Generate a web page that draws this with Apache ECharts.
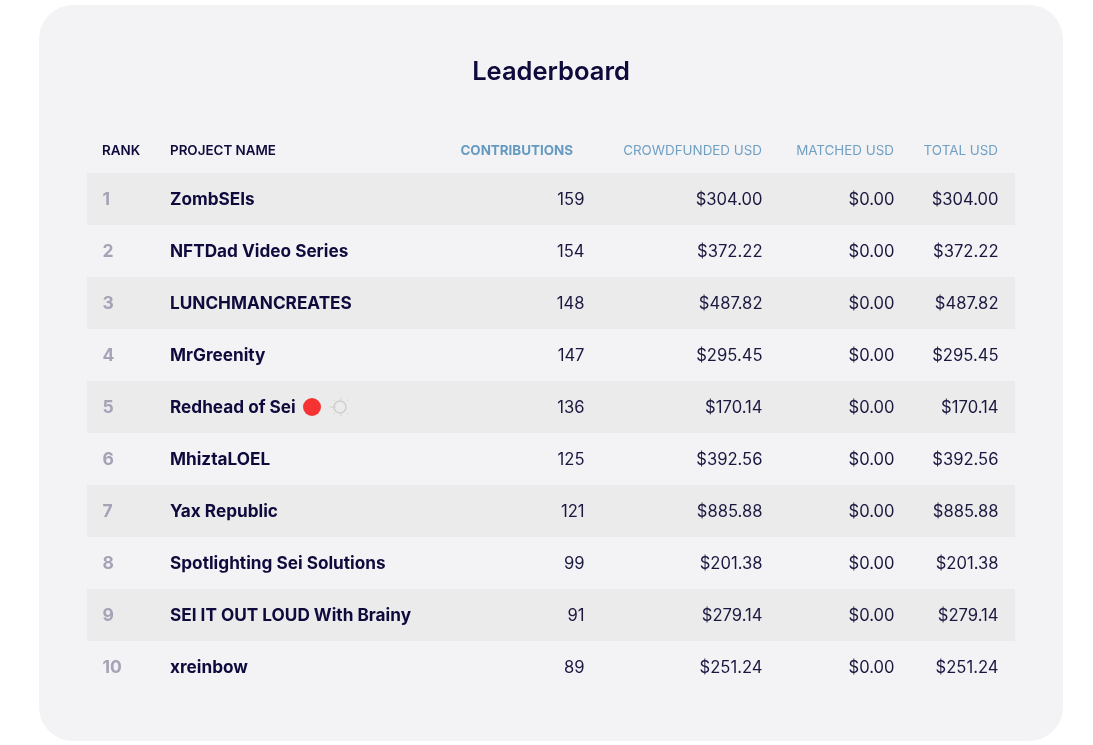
<!DOCTYPE html>
<html>
<head>
<meta charset="utf-8">
<style>html,body{margin:0;padding:0;background:#fff}#chart{width:1093px;height:745px}</style>
<script src="https://cdn.jsdelivr.net/npm/echarts@6/dist/echarts.min.js"></script>
</head>
<body>
<div id="chart"></div>
<script>
var ranks = ['1','2','3','4','5','6','7','8','9','10'];
var projects = ['ZombSEIs','NFTDad Video Series','LUNCHMANCREATES','MrGreenity','Redhead of Sei','MhiztaLOEL','Yax Republic','Spotlighting Sei Solutions','SEI IT OUT LOUD With Brainy','xreinbow'];
var contributions = [159,154,148,147,136,125,121,99,91,89];
var crowdfunded = [304.00,372.22,487.82,295.45,170.14,392.56,885.88,201.38,279.14,251.24];
var matched = [0,0,0,0,0,0,0,0,0,0];
var total = [304.00,372.22,487.82,295.45,170.14,392.56,885.88,201.38,279.14,251.24];
var headers = ['RANK','PROJECT NAME','CONTRIBUTIONS','CROWDFUNDED USD','MATCHED USD','TOTAL USD'];

var font = 'Inter';
var ink = '#0e0a3c';
var usd = function(v){ return '$' + v.toFixed(2); };

// one invisible scatter per column, the label is the cell
function column(x, align, texts, style){
    return {
        type: 'scatter',
        silent: true,
        symbolSize: 1,
        itemStyle: {color: 'rgba(0,0,0,0)', opacity: 1},
        data: texts.map(function(t, i){ return {name: String(t), value: [x, ranks[i]]}; }),
        label: Object.assign({
            show: true,
            formatter: '{b}',
            position: align,
            distance: 0,
            offset: [0, 1],
            fontFamily: font
        }, style)
    };
}

var bodyStyle = {color: '#1b1840', fontSize: 16.6, fontWeight: 400};
var headX = [102, 170, 573, 762, 894, 998];
var headAlign = ['left','left','right','right','right','right'];
var headStyle = [
    {fill: ink, fontWeight: 600},
    {fill: ink, fontWeight: 600},
    {fill: '#659ac0', fontWeight: 700},
    {fill: '#6f9fc2', fontWeight: 400},
    {fill: '#6f9fc2', fontWeight: 400},
    {fill: '#6f9fc2', fontWeight: 400}
];

var option = {
    animation: false,
    backgroundColor: '#fff',
    title: {
        text: 'Leaderboard',
        left: 546,
        top: 54,
        textAlign: 'center',
        textStyle: {color: ink, fontFamily: font, fontSize: 25.5, fontWeight: 600}
    },
    graphic: [{
        type: 'rect',
        z: -10,
        shape: {x: 39, y: 5, width: 1024, height: 736, r: 34},
        style: {fill: '#f3f3f6'}
    }].concat(headers.map(function(h, i){
        return {
            type: 'text',
            x: headX[i],
            y: 151,
            z: 5,
            style: Object.assign({
                text: h,
                fontFamily: font,
                fontSize: 13.4,
                align: headAlign[i],
                verticalAlign: 'middle'
            }, headStyle[i])
        };
    })),
    grid: {left: 87, top: 173, width: 928, height: 520, z: 2},
    xAxis: {type: 'value', min: 87, max: 1015, show: false},
    yAxis: {
        type: 'category',
        inverse: true,
        data: ranks,
        axisLine: {show: false},
        axisTick: {show: false},
        axisLabel: {show: false},
        splitLine: {show: false},
        splitArea: {show: true, interval: 0, areaStyle: {color: ['#ebebec', 'rgba(0,0,0,0)']}}
    },
    series: [
        column(102, 'right', ranks, {color: '#a4a4b6', fontSize: 17.5, fontWeight: 700}),
        column(169.5, 'right', projects, {color: ink, fontSize: 17.2, fontWeight: 700}),
        column(585, 'left', contributions, bodyStyle),
        column(763, 'left', crowdfunded.map(usd), bodyStyle),
        column(895, 'left', matched.map(usd), bodyStyle),
        column(999, 'left', total.map(usd), bodyStyle),
        // the two little icons after Redhead of Sei
        {
            type: 'scatter',
            silent: true,
            symbol: 'circle',
            symbolSize: 18,
            itemStyle: {color: '#f53333', opacity: 1},
            data: [[312, ranks[4]]]
        },
        {
            type: 'scatter',
            silent: true,
            symbol: 'circle',
            symbolSize: 12,
            itemStyle: {color: 'rgba(0,0,0,0)', borderColor: '#cfcfcf', borderWidth: 1.5, opacity: 1},
            data: [[340, ranks[4]]]
        },
        {
            type: 'scatter',
            silent: true,
            symbol: 'path://M0 9H5M9 0V2M15 2L14 3M3 2L4 3M3 16L4 15M15 16L14 15M9 16V18',
            symbolSize: 19,
            itemStyle: {color: 'rgba(0,0,0,0)', borderColor: '#cfcfcf', borderWidth: 1, opacity: 1},
            data: [[339, ranks[4]]]
        }
    ]
};

var myChart = echarts.init(document.getElementById('chart'));
myChart.setOption(option);
</script>
</body>
</html>
